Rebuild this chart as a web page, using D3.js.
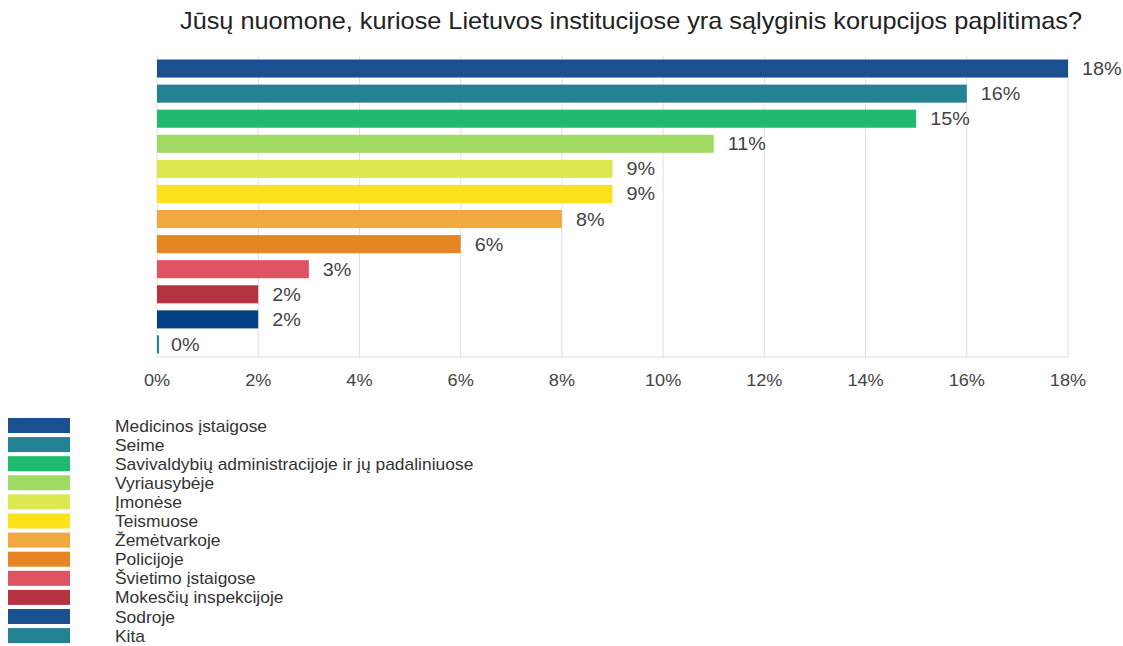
<!DOCTYPE html>
<html>
<head>
<meta charset="utf-8">
<script src="https://cdn.jsdelivr.net/npm/d3@7"></script>
<style>
  body { margin: 0; background: #fff; }
  svg { display: block; font-family: "Liberation Sans", Arial, sans-serif; }
</style>
</head>
<body>
<svg width="1123" height="646"></svg>
<script>
const title = "Jūsų nuomone, kuriose Lietuvos institucijose yra sąlyginis korupcijos paplitimas?";
const categories = ["Medicinos įstaigose", "Seime", "Savivaldybių administracijoje ir jų padaliniuose",
  "Vyriausybėje", "Įmonėse", "Teismuose", "Žemėtvarkoje", "Policijoje", "Švietimo įstaigose",
  "Mokesčių inspekcijoje", "Sodroje", "Kita"];
const values = [18, 16, 15, 11, 9, 9, 8, 6, 3, 2, 2, 0];
const barColors = ["#1a5090", "#238294", "#1fba6e", "#a0d964", "#dbe84f", "#fde11b",
  "#f0a83f", "#e58622", "#e05161", "#b53340", "#053f86", "#238294"];
const legendColors = ["#1a5090", "#238294", "#1fba6e", "#a0d964", "#dbe84f", "#fde11b",
  "#f0a83f", "#e58622", "#e05161", "#b53340", "#1a5090", "#238294"];
const xTicks = [0, 2, 4, 6, 8, 10, 12, 14, 16, 18];

const svg = d3.select("svg");

const plotLeft = 157, plotRight = 1068, plotTop = 56, plotBottom = 357;
const stretch = 1.1; // the original text looks a bit wide

const x = d3.scaleLinear().domain([0, 18]).range([plotLeft, plotRight]);
const y = d3.scaleBand().domain(categories).range([plotTop, plotBottom]).paddingInner(0.28).paddingOuter(0.14);

svg.append("text")
  .attr("transform", `translate(631, 29) scale(${stretch}, 1)`)
  .attr("text-anchor", "middle")
  .attr("font-size", 23)
  .attr("fill", "#222")
  .text(title);

// gridlines
svg.append("g").selectAll("line")
  .data(xTicks)
  .join("line")
  .attr("x1", d => x(d)).attr("x2", d => x(d))
  .attr("y1", plotTop).attr("y2", plotBottom)
  .attr("stroke", "#e0e0e0");

svg.append("line")
  .attr("x1", plotLeft).attr("x2", plotRight)
  .attr("y1", plotBottom).attr("y2", plotBottom)
  .attr("stroke", "#ddd");

// bars
svg.append("g").selectAll("rect")
  .data(values)
  .join("rect")
  .attr("x", x(0))
  .attr("y", (d, i) => y(categories[i]))
  .attr("width", d => Math.max(x(d) - x(0), 2))
  .attr("height", y.bandwidth())
  .attr("fill", (d, i) => barColors[i]);

svg.append("g").selectAll("text")
  .data(values)
  .join("text")
  .attr("transform", (d, i) => `translate(${x(d) + 14}, ${y(categories[i]) + y.bandwidth() / 2 + 6.5}) scale(${stretch}, 1)`)
  .attr("font-size", 18)
  .attr("fill", "#444")
  .text(d => d + "%");

// x axis labels
svg.append("g").selectAll("text")
  .data(xTicks)
  .join("text")
  .attr("transform", d => `translate(${x(d)}, 386) scale(${stretch}, 1)`)
  .attr("text-anchor", "middle")
  .attr("font-size", 16.5)
  .attr("fill", "#444")
  .text(d => d + "%");

// legend
const legend = svg.append("g").attr("transform", "translate(8, 418)");
const row = legend.selectAll("g")
  .data(categories)
  .join("g")
  .attr("transform", (d, i) => `translate(0, ${i * 19.1})`);
row.append("rect")
  .attr("width", 62).attr("height", 15)
  .attr("fill", (d, i) => legendColors[i]);
row.append("text")
  .attr("transform", `translate(107, 13.5) scale(1.09, 1)`)
  .attr("font-size", 16)
  .attr("fill", "#333")
  .text(d => d);
</script>
</body>
</html>
